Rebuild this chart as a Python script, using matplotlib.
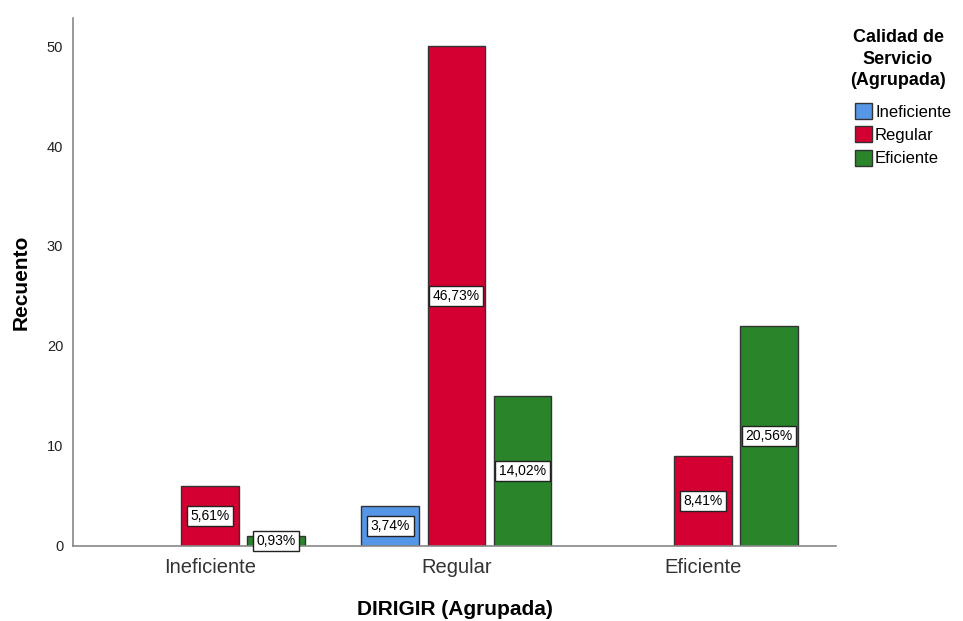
import matplotlib.pyplot as plt
import numpy as np

plt.rcParams['font.family'] = ['Liberation Sans', 'DejaVu Sans']

# DIRIGIR groups on the x axis, Calidad de Servicio as the clustered series
grupos = ['Ineficiente', 'Regular', 'Eficiente']
series = ['Ineficiente', 'Regular', 'Eficiente']
recuento_ineficiente = [0, 4, 0]
recuento_regular = [6, 50, 9]
recuento_eficiente = [1, 15, 22]
colores = ['#5596E6', '#D50032', '#2A852A']

valores = [recuento_ineficiente, recuento_regular, recuento_eficiente]
total = sum(sum(v) for v in valores)

fig = plt.figure(figsize=(9.63, 6.21), dpi=100)
ax = fig.add_axes([0.0758, 0.1208, 0.7923, 0.8502])

x = np.arange(len(grupos))
paso = 0.268
ancho = 0.235

handles = []
for i, (nombre, vals, col) in enumerate(zip(series, valores, colores)):
    pos = x + (i - 1) * paso
    alto = np.array(vals, dtype=float)
    alto[alto == 0] = np.nan
    b = ax.bar(pos, alto, width=ancho, color=col, edgecolor='#333333',
               linewidth=1.0, label=nombre)
    handles.append(b)
    for xp, v in zip(pos, vals):
        if v == 0:
            continue
        pct = '{:.2f}%'.format(v / total * 100).replace('.', ',')
        ax.text(xp, v / 2, pct, ha='center', va='center', fontsize=10,
                color='black',
                bbox=dict(boxstyle='square,pad=0.25', fc='white',
                          ec='#222222', lw=1.0))

ax.set_xlim(-0.556, 2.54)
ax.set_ylim(0, 52.8)
ax.set_yticks([0, 10, 20, 30, 40, 50])
ax.set_xticks(x)
ax.set_xticklabels(grupos, fontsize=14.5, color='#333333')
ax.tick_params(axis='y', labelsize=10.5, colors='#222222', length=0, pad=7)
ax.tick_params(axis='x', length=0, pad=9)

for s in ['top', 'right']:
    ax.spines[s].set_visible(False)
for s in ['left', 'bottom']:
    ax.spines[s].set_color('#888888')
    ax.spines[s].set_linewidth(1.2)

ax.set_ylabel('Recuento', fontsize=15, fontweight='bold', labelpad=12)
ax.set_xlabel('DIRIGIR (Agrupada)', fontsize=15, fontweight='bold', labelpad=16)

# legend title drawn separately so its spacing can be set freely
fig.text(898 / 963, 1 - 59 / 621, 'Calidad de\nServicio\n(Agrupada)',
         ha='center', va='center', fontsize=13, fontweight='bold',
         linespacing=1.32, multialignment='center')

leg = fig.legend(handles=handles, labels=series,
                 loc='upper left', bbox_to_anchor=(855 / 963, 1 - 103 / 621),
                 frameon=False, fontsize=12, handlelength=1.0,
                 handleheight=1.1, handletextpad=0.2, labelspacing=0.4,
                 borderaxespad=0, borderpad=0)

fig.savefig('out.png', dpi=100)
